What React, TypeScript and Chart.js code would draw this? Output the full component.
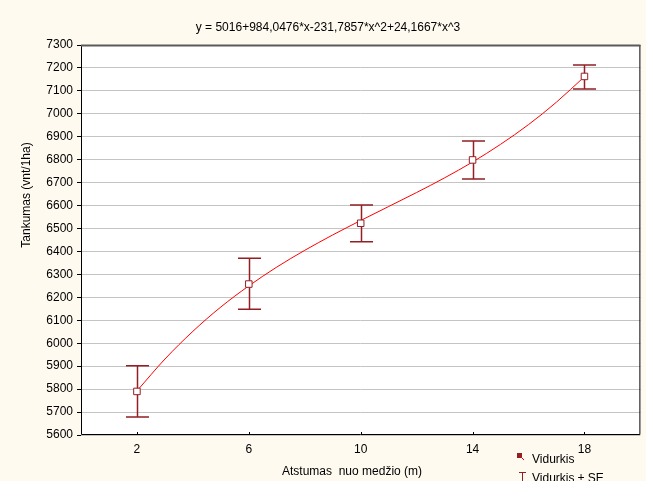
import React, { useEffect, useRef } from "react";
import { Chart, registerables } from "chart.js";

Chart.register(...registerables);

const distances = [2, 6, 10, 14, 18];
const means = [5790, 6258, 6523, 6799, 7163];
const seLow = [5679, 6148, 6442, 6716, 7108];
const seHigh = [5902, 6370, 6603, 6882, 7213];
// fitted curve
const curveX = [2, 3, 4, 5, 6, 7, 8, 9, 10, 11, 12, 13, 14, 15, 16, 17, 18];
const curveY = [5792, 5931, 6052, 6158, 6250, 6332, 6405, 6472, 6535, 6596, 6657, 6721, 6790, 6867, 6953, 7051, 7162];
const xTicks = [2, 6, 10, 14, 18];
const yMin = 5600;
const yMax = 7300;
const yStep = 100;
const titleText = "y = 5016+984,0476*x-231,7857*x^2+24,1667*x^3";
const yTitle = "Tankumas (vnt/1ha)";
const xTitle = "Atstumas  nuo medžio (m)";
const legendLabels = ["Vidurkis", "Vidurkis ± SE"];

const FONT = 'Arial, "Liberation Sans", sans-serif';
const DARK_RED = "#931f25";

const decor = {
  id: "decor",
  beforeDraw(chart: any) {
    const { ctx, width, height, chartArea: a } = chart;
    ctx.save();
    ctx.fillStyle = "#fffaf0";
    ctx.fillRect(0, 0, width, height);
    ctx.fillStyle = "#ffffff";
    ctx.fillRect(a.left, a.top, a.right - a.left, a.bottom - a.top);
    ctx.restore();
  },
  beforeDatasetsDraw(chart: any) {
    const { ctx } = chart;
    const xs = chart.scales.x;
    const ys = chart.scales.y;
    ctx.save();
    ctx.strokeStyle = DARK_RED;
    ctx.lineWidth = 1.5;
    for (let i = 0; i < distances.length; i++) {
      const x = Math.round(xs.getPixelForValue(distances[i])) + 0.5;
      const yl = ys.getPixelForValue(seLow[i]);
      const yh = ys.getPixelForValue(seHigh[i]);
      ctx.beginPath();
      ctx.moveTo(x, yl);
      ctx.lineTo(x, yh);
      ctx.moveTo(x - 11.5, yl);
      ctx.lineTo(x + 11.5, yl);
      ctx.moveTo(x - 11.5, yh);
      ctx.lineTo(x + 11.5, yh);
      ctx.stroke();
    }
    ctx.restore();
  },
  afterDraw(chart: any) {
    const { ctx, chartArea: a } = chart;
    const xs = chart.scales.x;
    ctx.save();
    ctx.strokeStyle = "#000";
    ctx.lineWidth = 1;
    ctx.beginPath();
    ctx.moveTo(a.left + 0.5, a.top);
    ctx.lineTo(a.left + 0.5, a.bottom - 0.5);
    ctx.lineTo(a.right - 0.5, a.bottom - 0.5);
    ctx.lineTo(a.right - 0.5, a.top);
    ctx.stroke();
    ctx.strokeStyle = "#5a5a5a";
    ctx.lineWidth = 2;
    ctx.beginPath();
    ctx.moveTo(a.left, a.top + 0.5);
    ctx.lineTo(a.right, a.top + 0.5);
    ctx.stroke();
    ctx.strokeStyle = "#000";
    ctx.lineWidth = 1;
    for (const v of xTicks) {
      const x = Math.round(xs.getPixelForValue(v)) + 0.5;
      ctx.beginPath();
      ctx.moveTo(x, a.bottom);
      ctx.lineTo(x, a.bottom - 3);
      ctx.stroke();
    }
    ctx.fillStyle = "#000";
    ctx.font = `12px ${FONT}`;
    ctx.textBaseline = "middle";
    ctx.textAlign = "center";
    ctx.fillText(titleText, 328, 28);
    ctx.textAlign = "left";
    ctx.fillText(xTitle, 282, 472);
    ctx.save();
    ctx.translate(27, 195);
    ctx.rotate(-Math.PI / 2);
    ctx.textAlign = "center";
    ctx.fillText(yTitle, 0, 0);
    ctx.restore();
    ctx.fillStyle = DARK_RED;
    ctx.fillRect(517, 453, 5, 5);
    ctx.strokeStyle = "#ff0000";
    ctx.beginPath();
    ctx.moveTo(521, 457);
    ctx.lineTo(524, 460);
    ctx.stroke();
    ctx.strokeStyle = DARK_RED;
    ctx.beginPath();
    ctx.moveTo(522.5, 473);
    ctx.lineTo(522.5, 481);
    ctx.moveTo(519, 472.5);
    ctx.lineTo(526, 472.5);
    ctx.stroke();
    ctx.fillStyle = "#000";
    ctx.textAlign = "left";
    ctx.fillText(legendLabels[0], 532, 460);
    ctx.fillText(legendLabels[1], 532, 479);
    ctx.restore();
  },
};

export default function App() {
  const ref = useRef<HTMLCanvasElement | null>(null);
  useEffect(() => {
    if (!ref.current) return;
    Chart.defaults.font.family = FONT;
    Chart.defaults.font.size = 12;
    const pts = distances.map((x, i) => ({ x, y: means[i] }));
    const curve = curveX.map((x, i) => ({ x, y: curveY[i] }));
    const chart = new Chart(ref.current, {
      type: "line",
      data: {
        datasets: [
          {
            label: "Vidurkis",
            data: pts,
            showLine: false,
            pointStyle: "rect",
            pointRadius: 4.6,
            pointBackgroundColor: "#ffffff",
            pointBorderColor: DARK_RED,
            pointBorderWidth: 1,
          },
          {
            label: "fit",
            data: curve,
            borderColor: "#ff0000",
            borderWidth: 1,
            pointRadius: 0,
            cubicInterpolationMode: "monotone",
            fill: false,
          },
        ],
      },
      options: {
        animation: false,
        responsive: false,
        events: [],
        layout: { padding: { top: 45, right: 5, left: 0, bottom: 0 } },
        plugins: {
          legend: { display: false },
          tooltip: { enabled: false },
          title: { display: false },
        },
        scales: {
          x: {
            type: "linear",
            min: 0,
            max: 20,
            afterBuildTicks: (s: any) => {
              s.ticks = xTicks.map((v) => ({ value: v }));
            },
            afterFit: (s: any) => {
              s.height = 46;
            },
            grid: { display: false, tickLength: 0, drawTicks: false },
            border: { display: false },
            ticks: {
              color: "#000",
              padding: 7,
              autoSkip: false,
              maxRotation: 0,
              callback: (v: any) => String(v),
            },
          },
          y: {
            type: "linear",
            min: yMin,
            max: yMax,
            afterFit: (s: any) => {
              s.width = 81;
            },
            grid: { color: "#c4c4c4", tickColor: "#000", tickLength: 4, lineWidth: 1 },
            border: { display: false },
            ticks: {
              stepSize: yStep,
              color: "#000",
              padding: 4,
              autoSkip: false,
              callback: (v: any) => String(v),
            },
          },
        },
      },
      plugins: [decor],
    } as any);
    return () => chart.destroy();
  }, []);
  return (
    <div style={{ position: "absolute", left: 0, top: 0, width: 646, height: 481 }}>
      <canvas ref={ref} width={646} height={481} style={{ display: "block" }} />
    </div>
  );
}
